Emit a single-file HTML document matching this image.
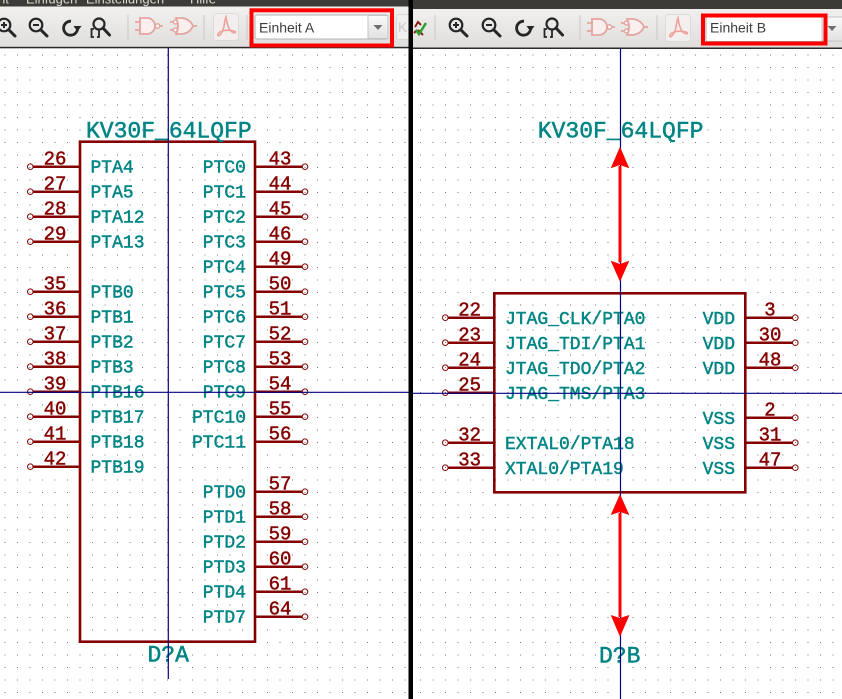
<!DOCTYPE html>
<html><head><meta charset="utf-8">
<style>
html,body{margin:0;padding:0;background:#fff;width:842px;height:699px;overflow:hidden}
svg{display:block}
.pt{font-family:"Liberation Mono","DejaVu Sans Mono",monospace;fill:#008484;stroke:#008484;stroke-width:0.45;font-size:18px}
.nm{font-family:"Liberation Mono","DejaVu Sans Mono",monospace;fill:#840000;stroke:#840000;stroke-width:0.45;font-size:19px;text-anchor:middle}
.ti{font-family:"Liberation Mono","DejaVu Sans Mono",monospace;fill:#008484;stroke:#008484;stroke-width:0.5;font-size:23px}
.ui{font-family:"Liberation Sans",sans-serif;font-size:14px;fill:#3c3c3c}
.mn{font-family:"Liberation Sans",sans-serif;font-size:13px;fill:#dfdbd2}
.end{text-anchor:end}
</style></head><body>
<svg width="842" height="699" viewBox="0 0 842 699" xmlns="http://www.w3.org/2000/svg">
<defs>
<pattern id="gL" x="-1" y="-1" width="12.5" height="12.5" patternUnits="userSpaceOnUse"><rect x="5.5" y="5.5" width="1" height="1" fill="#7a7a7a"/></pattern>
<pattern id="gR" x="2" y="-1" width="12.5" height="12.5" patternUnits="userSpaceOnUse"><rect x="5.5" y="5.5" width="1" height="1" fill="#7a7a7a"/></pattern>
<linearGradient id="tb" x1="0" y1="0" x2="0" y2="1"><stop offset="0" stop-color="#f5f4f3"/><stop offset="1" stop-color="#dfdedc"/></linearGradient>
<linearGradient id="btn" x1="0" y1="0" x2="0" y2="1"><stop offset="0" stop-color="#fafafa"/><stop offset="1" stop-color="#e2e2e2"/></linearGradient>
<symbol id="zin" viewBox="0 0 26 26" width="26" height="26"><circle cx="10" cy="10" r="6.3" fill="none" stroke="#262626" stroke-width="2.2"/><path d="M7 10H13M10 7V13" stroke="#262626" stroke-width="2"/><path d="M14.8 14.8L21 21" stroke="#262626" stroke-width="3" stroke-linecap="round"/></symbol>
<symbol id="zout" viewBox="0 0 26 26" width="26" height="26"><circle cx="10" cy="10" r="6.3" fill="none" stroke="#262626" stroke-width="2.2"/><path d="M7 10H13" stroke="#262626" stroke-width="2"/><path d="M14.8 14.8L21 21" stroke="#262626" stroke-width="3" stroke-linecap="round"/></symbol>
<symbol id="redo" viewBox="0 0 26 26" width="26" height="26"><path d="M11 5.2A7 7 0 1 0 17.6 12.5" fill="none" stroke="#262626" stroke-width="2.8"/><polygon points="13.5,10 21.5,10 17.5,15.5" fill="#262626"/></symbol>
<symbol id="fit" viewBox="0 0 30 26" width="30" height="26"><circle cx="12" cy="9" r="5.5" fill="none" stroke="#262626" stroke-width="2.2"/><path d="M16 13L22.5 20" stroke="#262626" stroke-width="3" stroke-linecap="round"/><path d="M7 14H4.5V22H7M12 15V22H10" fill="none" stroke="#262626" stroke-width="1.8"/></symbol>
<symbol id="g1" viewBox="0 0 28 20" width="28" height="20"><path d="M0 5H5M0 13H5M25 9H28" stroke="#e3a5a0" stroke-width="1.8"/><path d="M5 1H12A8 8 0 0 1 12 17H5Z" fill="#fbeeee" stroke="#e3a5a0" stroke-width="1.8"/><circle cx="22.5" cy="9" r="2.2" fill="#fff" stroke="#e3a5a0" stroke-width="1.5"/></symbol>
<symbol id="g2" viewBox="0 0 28 20" width="28" height="20"><path d="M0 5H3M0 13H3M22 9H27" stroke="#e3a5a0" stroke-width="1.8"/><circle cx="5.5" cy="5" r="2" fill="#fff" stroke="#e3a5a0" stroke-width="1.4"/><circle cx="5.5" cy="13" r="2" fill="#fff" stroke="#e3a5a0" stroke-width="1.4"/><path d="M6 1H12Q20 2 23 9Q20 16 12 17H6Q10 9 6 1Z" fill="#fbeeee" stroke="#e3a5a0" stroke-width="1.8"/></symbol>
<symbol id="pdf" viewBox="0 0 26 28" width="26" height="28"><rect x="0.5" y="0.5" width="25" height="27" rx="3" fill="#f2efee" stroke="#dddada"/><path d="M13 4C11 8 12 14 9 19C7 23 4 24 5 21C6 18 14 16 21 18C24 19 22 21 19 19C16 17 14 11 13 4Z" fill="none" stroke="#eea29c" stroke-width="1.6"/></symbol>
</defs>

<!-- canvas backgrounds -->
<rect x="0" y="48" width="408.5" height="651" fill="#fff"/>
<rect x="0" y="48" width="408.5" height="651" fill="url(#gL)"/>
<rect x="413" y="49" width="429" height="650" fill="#fff"/>
<rect x="413" y="49" width="429" height="650" fill="url(#gR)"/>

<!-- toolbars -->
<rect x="0" y="0" width="408.5" height="47.5" fill="url(#tb)"/>
<rect x="413" y="0" width="429" height="48" fill="url(#tb)"/>
<rect x="0" y="0" width="408.5" height="6.5" fill="#3c3b37"/>
<rect x="413" y="0" width="429" height="9" fill="#3c3b37"/>
<text class="mn" x="-2" y="3.5">nt</text>
<text class="mn" x="26" y="3.5">Einfügen</text>
<text class="mn" x="86" y="3.5">Einstellungen</text>
<text class="mn" x="190" y="3.5">Hilfe</text>
<rect x="0" y="46.8" width="408.5" height="1.5" fill="#2a2a2a"/>
<rect x="413" y="47.5" width="429" height="1.5" fill="#2a2a2a"/>

<!-- left toolbar icons -->
<use href="#zin" x="-6" y="15"/>
<use href="#zout" x="26" y="15"/>
<use href="#redo" x="60" y="16"/>
<use href="#fit" x="87" y="15"/>
<path d="M128 15V40M204 15V40M247 15V40" stroke="#c9c8c6" stroke-width="1"/>
<use href="#g1" x="135" y="17"/>
<use href="#g2" x="170" y="17"/>
<use href="#pdf" x="213" y="13"/>
<rect x="255" y="15" width="133" height="24" rx="2" fill="#fff" stroke="#b3b3b3"/>
<rect x="368" y="15.5" width="20" height="23" fill="url(#btn)" stroke="#c4c4c4"/>
<polygon points="373.5,25 382.5,25 378,30" fill="#707070"/>
<text class="ui" x="259" y="32.3">Einheit A</text>
<rect x="251.5" y="10.3" width="140.5" height="35.2" fill="none" stroke="#ff0000" stroke-width="4"/>
<rect x="396.5" y="14.5" width="16" height="25" rx="2" fill="#f0f0f0" stroke="#d8d8d8"/>
<text class="ui" x="398" y="32" style="fill:#c8c8c8">K</text>

<!-- right toolbar icons -->
<path d="M415 27L418 22L421 25M418 30L423 35M414 33L417 30" stroke="#8a1c1c" stroke-width="2" fill="none"/>
<path d="M416 30L419 34L426 23" stroke="#2ca02c" stroke-width="2.5" fill="none"/>
<path d="M435 15V40M580 15V40M657 15V40" stroke="#c9c8c6" stroke-width="1"/>
<use href="#zin" x="446" y="15"/>
<use href="#zout" x="479" y="15"/>
<use href="#redo" x="513" y="16"/>
<use href="#fit" x="540" y="15"/>
<use href="#g1" x="587" y="18"/>
<use href="#g2" x="621" y="18"/>
<use href="#pdf" x="665" y="14"/>
<rect x="706" y="16.5" width="116" height="25" rx="2" fill="#fff" stroke="#b3b3b3"/>
<rect x="822" y="17" width="22" height="24" fill="url(#btn)" stroke="#c4c4c4"/>
<polygon points="827.5,26 836.5,26 832,31" fill="#707070"/>
<text class="ui" x="710" y="32.3">Einheit B</text>
<rect x="703" y="15.5" width="122.5" height="28" fill="none" stroke="#ff0000" stroke-width="4"/>

<!-- divider -->
<rect x="408.5" y="0" width="4.5" height="699" fill="#000"/>

<!-- ============ LEFT PART ============ -->
<g stroke="#840000" fill="none">
<rect x="80" y="141.7" width="175" height="500" stroke-width="2.6"/>
<path stroke-width="2.5" d="M33 166.7H80M33 191.7H80M33 216.7H80M33 241.7H80M33 291.7H80M33 316.7H80M33 341.7H80M33 366.7H80M33 391.7H80M33 416.7H80M33 441.7H80M33 466.7H80
M255 166.7H302M255 191.7H302M255 216.7H302M255 241.7H302M255 266.7H302M255 291.7H302M255 316.7H302M255 341.7H302M255 366.7H302M255 391.7H302M255 416.7H302M255 441.7H302M255 491.7H302M255 516.7H302M255 541.7H302M255 566.7H302M255 591.7H302M255 616.7H302"/>
<g stroke-width="1">
<circle cx="30.3" cy="166.7" r="2.8"/><circle cx="30.3" cy="191.7" r="2.8"/><circle cx="30.3" cy="216.7" r="2.8"/><circle cx="30.3" cy="241.7" r="2.8"/>
<circle cx="30.3" cy="291.7" r="2.8"/><circle cx="30.3" cy="316.7" r="2.8"/><circle cx="30.3" cy="341.7" r="2.8"/><circle cx="30.3" cy="366.7" r="2.8"/>
<circle cx="30.3" cy="391.7" r="2.8"/><circle cx="30.3" cy="416.7" r="2.8"/><circle cx="30.3" cy="441.7" r="2.8"/><circle cx="30.3" cy="466.7" r="2.8"/>
<circle cx="305" cy="166.7" r="2.8"/><circle cx="305" cy="191.7" r="2.8"/><circle cx="305" cy="216.7" r="2.8"/><circle cx="305" cy="241.7" r="2.8"/>
<circle cx="305" cy="266.7" r="2.8"/><circle cx="305" cy="291.7" r="2.8"/><circle cx="305" cy="316.7" r="2.8"/><circle cx="305" cy="341.7" r="2.8"/>
<circle cx="305" cy="366.7" r="2.8"/><circle cx="305" cy="391.7" r="2.8"/><circle cx="305" cy="416.7" r="2.8"/><circle cx="305" cy="441.7" r="2.8"/>
<circle cx="305" cy="491.7" r="2.8"/><circle cx="305" cy="516.7" r="2.8"/><circle cx="305" cy="541.7" r="2.8"/><circle cx="305" cy="566.7" r="2.8"/>
<circle cx="305" cy="591.7" r="2.8"/><circle cx="305" cy="616.7" r="2.8"/>
</g>
</g>

<text class="ti" x="86" y="137.5">KV30F_64LQFP</text>
<text class="ti" x="147.5" y="661.5">D?A</text>

<text class="nm" x="55" y="164.4">26</text><text class="nm" x="55" y="189.4">27</text><text class="nm" x="55" y="214.4">28</text><text class="nm" x="55" y="239.4">29</text>
<text class="nm" x="55" y="289.4">35</text><text class="nm" x="55" y="314.4">36</text><text class="nm" x="55" y="339.4">37</text><text class="nm" x="55" y="364.4">38</text>
<text class="nm" x="55" y="389.4">39</text><text class="nm" x="55" y="414.4">40</text><text class="nm" x="55" y="439.4">41</text><text class="nm" x="55" y="464.4">42</text>
<text class="nm" x="280" y="164.4">43</text><text class="nm" x="280" y="189.4">44</text><text class="nm" x="280" y="214.4">45</text><text class="nm" x="280" y="239.4">46</text>
<text class="nm" x="280" y="264.4">49</text><text class="nm" x="280" y="289.4">50</text><text class="nm" x="280" y="314.4">51</text><text class="nm" x="280" y="339.4">52</text>
<text class="nm" x="280" y="364.4">53</text><text class="nm" x="280" y="389.4">54</text><text class="nm" x="280" y="414.4">55</text><text class="nm" x="280" y="439.4">56</text>
<text class="nm" x="280" y="489.4">57</text><text class="nm" x="280" y="514.4">58</text><text class="nm" x="280" y="539.4">59</text><text class="nm" x="280" y="564.4">60</text>
<text class="nm" x="280" y="589.4">61</text><text class="nm" x="280" y="614.4">64</text>

<text class="pt" x="90.5" y="172.7">PTA4</text><text class="pt" x="90.5" y="197.7">PTA5</text><text class="pt" x="90.5" y="222.7">PTA12</text><text class="pt" x="90.5" y="247.7">PTA13</text>
<text class="pt" x="90.5" y="297.7">PTB0</text><text class="pt" x="90.5" y="322.7">PTB1</text><text class="pt" x="90.5" y="347.7">PTB2</text><text class="pt" x="90.5" y="372.7">PTB3</text>
<text class="pt" x="90.5" y="397.7">PTB16</text><text class="pt" x="90.5" y="422.7">PTB17</text><text class="pt" x="90.5" y="447.7">PTB18</text><text class="pt" x="90.5" y="472.7">PTB19</text>

<text class="pt end" x="246" y="172.7">PTC0</text><text class="pt end" x="246" y="197.7">PTC1</text><text class="pt end" x="246" y="222.7">PTC2</text><text class="pt end" x="246" y="247.7">PTC3</text>
<text class="pt end" x="246" y="272.7">PTC4</text><text class="pt end" x="246" y="297.7">PTC5</text><text class="pt end" x="246" y="322.7">PTC6</text><text class="pt end" x="246" y="347.7">PTC7</text>
<text class="pt end" x="246" y="372.7">PTC8</text><text class="pt end" x="246" y="397.7">PTC9</text><text class="pt end" x="246" y="422.7">PTC10</text><text class="pt end" x="246" y="447.7">PTC11</text>
<text class="pt end" x="246" y="497.7">PTD0</text><text class="pt end" x="246" y="522.7">PTD1</text><text class="pt end" x="246" y="547.7">PTD2</text><text class="pt end" x="246" y="572.7">PTD3</text>
<text class="pt end" x="246" y="597.7">PTD4</text><text class="pt end" x="246" y="622.7">PTD7</text>

<!-- left crosshair -->
<path d="M168.3 48V679M0 392.3H408.5" stroke="#000084" stroke-width="1.2"/>

<!-- ============ RIGHT PART ============ -->
<g stroke="#840000" fill="none">
<rect x="494.3" y="293.3" width="251" height="199" stroke-width="2.6"/>
<path stroke-width="2.5" d="M448 317.7H494.3M448 342.7H494.3M448 367.7H494.3M448 392.7H494.3M448 442.7H494.3M448 467.7H494.3
M745.3 317.7H792.5M745.3 342.7H792.5M745.3 367.7H792.5M745.3 417.7H792.5M745.3 442.7H792.5M745.3 467.7H792.5"/>
<g stroke-width="1">
<circle cx="445.3" cy="317.7" r="2.8"/><circle cx="445.3" cy="342.7" r="2.8"/><circle cx="445.3" cy="367.7" r="2.8"/><circle cx="445.3" cy="392.7" r="2.8"/>
<circle cx="445.3" cy="442.7" r="2.8"/><circle cx="445.3" cy="467.7" r="2.8"/>
<circle cx="795.3" cy="317.7" r="2.8"/><circle cx="795.3" cy="342.7" r="2.8"/><circle cx="795.3" cy="367.7" r="2.8"/>
<circle cx="795.3" cy="417.7" r="2.8"/><circle cx="795.3" cy="442.7" r="2.8"/><circle cx="795.3" cy="467.7" r="2.8"/>
</g>
</g>

<text class="ti" x="537.8" y="137.7">KV30F_64LQFP</text>
<text class="ti" x="599" y="662.5">D?B</text>

<text class="nm" x="469.7" y="315.4">22</text><text class="nm" x="469.7" y="340.4">23</text><text class="nm" x="469.7" y="365.4">24</text><text class="nm" x="469.7" y="390.4">25</text>
<text class="nm" x="469.7" y="440.4">32</text><text class="nm" x="469.7" y="465.4">33</text>
<text class="nm" x="770" y="315.4">3</text><text class="nm" x="770" y="340.4">30</text><text class="nm" x="770" y="365.4">48</text>
<text class="nm" x="770" y="415.4">2</text><text class="nm" x="770" y="440.4">31</text><text class="nm" x="770" y="465.4">47</text>

<text class="pt" x="505" y="324">JTAG_CLK/PTA0</text>
<text class="pt" x="505" y="349">JTAG_TDI/PTA1</text>
<text class="pt" x="505" y="374">JTAG_TDO/PTA2</text>
<text class="pt" x="505" y="399">JTAG_TMS/PTA3</text>
<text class="pt" x="505" y="449">EXTAL0/PTA18</text>
<text class="pt" x="505" y="474">XTAL0/PTA19</text>
<text class="pt end" x="735" y="324">VDD</text>
<text class="pt end" x="735" y="349">VDD</text>
<text class="pt end" x="735" y="374">VDD</text>
<text class="pt end" x="735" y="424">VSS</text>
<text class="pt end" x="735" y="449">VSS</text>
<text class="pt end" x="735" y="474">VSS</text>

<!-- right crosshair -->
<path d="M620.5 49V699M413 393.3H842" stroke="#000084" stroke-width="1.2"/>

<!-- red arrows -->
<g fill="#ff0000">
<path d="M620 166V262.5M620 513V617" stroke="#ff0000" stroke-width="3"/>
<polygon points="620,146.7 629.3,168.3 620,165 610.7,168.3"/>
<polygon points="620,281.7 629.3,260.7 620,264 610.7,260.7"/>
<polygon points="620,494 629.3,515 620,512 610.7,515"/>
<polygon points="620,636.7 629.5,615 620,618 610.7,615"/>
</g>
</svg>
</body></html>
